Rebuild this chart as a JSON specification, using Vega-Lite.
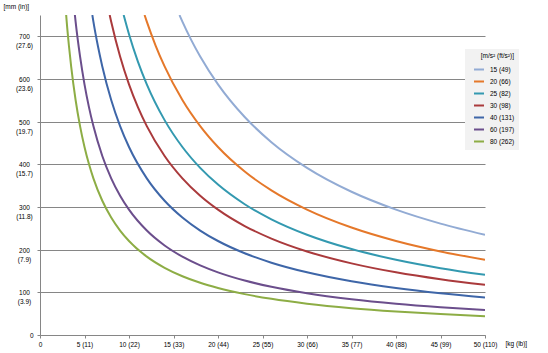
{
  "$schema": "https://vega.github.io/schema/vega-lite/v6.json",
  "autosize": {"type": "none"},
  "padding": {"left": 40, "top": 15, "right": 63, "bottom": 18},
  "width": 445,
  "height": 320,
  "background": "white",
  "config": {
    "view": {"stroke": null},
    "font": "Liberation Sans",
    "axis": {
      "labelFont": "Liberation Sans",
      "titleFont": "Liberation Sans",
      "labelFontSize": 6.5,
      "titleFontSize": 6.5,
      "titleFontWeight": "normal",
      "labelColor": "#000000",
      "titleColor": "#000000",
      "domainColor": "#868686",
      "tickColor": "#868686",
      "gridColor": "#868686",
      "tickSize": 3,
      "domainWidth": 1,
      "gridWidth": 1
    },
    "legend": {
      "labelFont": "Liberation Sans",
      "titleFont": "Liberation Sans"
    }
  },
  "data": {
    "values": [
      {"s": "80 (262)", "x": 2.94, "y": 750}, {"s": "80 (262)", "x": 3, "y": 734.4}, {"s": "80 (262)", "x": 3.25, "y": 677.9}, {"s": "80 (262)", "x": 3.5, "y": 629.5}, {"s": "80 (262)", "x": 4, "y": 550.8}, {"s": "80 (262)", "x": 4.5, "y": 489.6}, {"s": "80 (262)", "x": 5, "y": 440.6}, {"s": "80 (262)", "x": 5.5, "y": 400.6}, {"s": "80 (262)", "x": 6, "y": 367.2}, {"s": "80 (262)", "x": 7, "y": 314.7}, {"s": "80 (262)", "x": 8, "y": 275.4}, {"s": "80 (262)", "x": 9, "y": 244.8}, {"s": "80 (262)", "x": 10, "y": 220.3}, {"s": "80 (262)", "x": 12, "y": 183.6}, {"s": "80 (262)", "x": 14, "y": 157.4}, {"s": "80 (262)", "x": 16, "y": 137.7}, {"s": "80 (262)", "x": 18, "y": 122.4}, {"s": "80 (262)", "x": 20, "y": 110.2}, {"s": "80 (262)", "x": 23, "y": 95.8}, {"s": "80 (262)", "x": 26, "y": 84.7}, {"s": "80 (262)", "x": 30, "y": 73.4}, {"s": "80 (262)", "x": 35, "y": 62.9}, {"s": "80 (262)", "x": 40, "y": 55.1}, {"s": "80 (262)", "x": 45, "y": 49.0}, {"s": "80 (262)", "x": 50, "y": 44.1},
      {"s": "60 (197)", "x": 3.92, "y": 750}, {"s": "60 (197)", "x": 4, "y": 734.4}, {"s": "60 (197)", "x": 4.5, "y": 652.8}, {"s": "60 (197)", "x": 5, "y": 587.5}, {"s": "60 (197)", "x": 5.5, "y": 534.1}, {"s": "60 (197)", "x": 6, "y": 489.6}, {"s": "60 (197)", "x": 7, "y": 419.6}, {"s": "60 (197)", "x": 8, "y": 367.2}, {"s": "60 (197)", "x": 9, "y": 326.4}, {"s": "60 (197)", "x": 10, "y": 293.8}, {"s": "60 (197)", "x": 12, "y": 244.8}, {"s": "60 (197)", "x": 14, "y": 209.8}, {"s": "60 (197)", "x": 16, "y": 183.6}, {"s": "60 (197)", "x": 18, "y": 163.2}, {"s": "60 (197)", "x": 20, "y": 146.9}, {"s": "60 (197)", "x": 23, "y": 127.7}, {"s": "60 (197)", "x": 26, "y": 113.0}, {"s": "60 (197)", "x": 30, "y": 97.9}, {"s": "60 (197)", "x": 35, "y": 83.9}, {"s": "60 (197)", "x": 40, "y": 73.4}, {"s": "60 (197)", "x": 45, "y": 65.3}, {"s": "60 (197)", "x": 50, "y": 58.8},
      {"s": "40 (131)", "x": 5.88, "y": 750}, {"s": "40 (131)", "x": 6, "y": 734.4}, {"s": "40 (131)", "x": 6.5, "y": 677.9}, {"s": "40 (131)", "x": 7, "y": 629.5}, {"s": "40 (131)", "x": 8, "y": 550.8}, {"s": "40 (131)", "x": 9, "y": 489.6}, {"s": "40 (131)", "x": 10, "y": 440.6}, {"s": "40 (131)", "x": 12, "y": 367.2}, {"s": "40 (131)", "x": 14, "y": 314.7}, {"s": "40 (131)", "x": 16, "y": 275.4}, {"s": "40 (131)", "x": 18, "y": 244.8}, {"s": "40 (131)", "x": 20, "y": 220.3}, {"s": "40 (131)", "x": 23, "y": 191.6}, {"s": "40 (131)", "x": 26, "y": 169.5}, {"s": "40 (131)", "x": 30, "y": 146.9}, {"s": "40 (131)", "x": 35, "y": 125.9}, {"s": "40 (131)", "x": 40, "y": 110.2}, {"s": "40 (131)", "x": 45, "y": 97.9}, {"s": "40 (131)", "x": 50, "y": 88.1},
      {"s": "30 (98)", "x": 7.83, "y": 750}, {"s": "30 (98)", "x": 8, "y": 734.4}, {"s": "30 (98)", "x": 9, "y": 652.8}, {"s": "30 (98)", "x": 10, "y": 587.5}, {"s": "30 (98)", "x": 11, "y": 534.1}, {"s": "30 (98)", "x": 12, "y": 489.6}, {"s": "30 (98)", "x": 14, "y": 419.6}, {"s": "30 (98)", "x": 16, "y": 367.2}, {"s": "30 (98)", "x": 18, "y": 326.4}, {"s": "30 (98)", "x": 20, "y": 293.8}, {"s": "30 (98)", "x": 23, "y": 255.4}, {"s": "30 (98)", "x": 26, "y": 226.0}, {"s": "30 (98)", "x": 30, "y": 195.8}, {"s": "30 (98)", "x": 35, "y": 167.9}, {"s": "30 (98)", "x": 40, "y": 146.9}, {"s": "30 (98)", "x": 45, "y": 130.6}, {"s": "30 (98)", "x": 50, "y": 117.5},
      {"s": "25 (82)", "x": 9.4, "y": 750}, {"s": "25 (82)", "x": 10, "y": 705}, {"s": "25 (82)", "x": 11, "y": 640.9}, {"s": "25 (82)", "x": 12, "y": 587.5}, {"s": "25 (82)", "x": 14, "y": 503.6}, {"s": "25 (82)", "x": 16, "y": 440.6}, {"s": "25 (82)", "x": 18, "y": 391.7}, {"s": "25 (82)", "x": 20, "y": 352.5}, {"s": "25 (82)", "x": 23, "y": 306.5}, {"s": "25 (82)", "x": 26, "y": 271.2}, {"s": "25 (82)", "x": 30, "y": 235}, {"s": "25 (82)", "x": 35, "y": 201.4}, {"s": "25 (82)", "x": 40, "y": 176.3}, {"s": "25 (82)", "x": 45, "y": 156.7}, {"s": "25 (82)", "x": 50, "y": 141},
      {"s": "20 (66)", "x": 11.75, "y": 750}, {"s": "20 (66)", "x": 12, "y": 734.4}, {"s": "20 (66)", "x": 13, "y": 677.9}, {"s": "20 (66)", "x": 14, "y": 629.5}, {"s": "20 (66)", "x": 16, "y": 550.8}, {"s": "20 (66)", "x": 18, "y": 489.6}, {"s": "20 (66)", "x": 20, "y": 440.6}, {"s": "20 (66)", "x": 23, "y": 383.2}, {"s": "20 (66)", "x": 26, "y": 338.9}, {"s": "20 (66)", "x": 30, "y": 293.8}, {"s": "20 (66)", "x": 35, "y": 251.8}, {"s": "20 (66)", "x": 40, "y": 220.3}, {"s": "20 (66)", "x": 45, "y": 195.8}, {"s": "20 (66)", "x": 50, "y": 176.3},
      {"s": "15 (49)", "x": 15.67, "y": 750}, {"s": "15 (49)", "x": 16, "y": 734.4}, {"s": "15 (49)", "x": 17, "y": 691.2}, {"s": "15 (49)", "x": 18, "y": 652.8}, {"s": "15 (49)", "x": 20, "y": 587.5}, {"s": "15 (49)", "x": 23, "y": 510.9}, {"s": "15 (49)", "x": 26, "y": 451.9}, {"s": "15 (49)", "x": 30, "y": 391.7}, {"s": "15 (49)", "x": 35, "y": 335.7}, {"s": "15 (49)", "x": 40, "y": 293.8}, {"s": "15 (49)", "x": 45, "y": 261.1}, {"s": "15 (49)", "x": 50, "y": 235}
    ]
  },
  "mark": {"type": "line", "strokeWidth": 2, "interpolate": "monotone", "clip": true},
  "encoding": {
    "x": {
      "field": "x", "type": "quantitative",
      "scale": {"domain": [0, 50], "nice": false, "zero": true},
      "axis": {
        "values": [0, 5, 10, 15, 20, 25, 30, 35, 40, 45, 50],
        "grid": false,
        "labelPadding": 3,
        "labelExpr": "datum.value == 0 ? '0' : datum.value + ' (' + format(datum.value * 2.20462, 'd') + ')'",
        "title": "[kg (lb)]",
        "titleX": 465,
        "titleY": 8,
        "titleAlign": "left",
        "titleAnchor": "start",
        "titleBaseline": "middle",
        "labelFlush": false
      }
    },
    "y": {
      "field": "y", "type": "quantitative",
      "scale": {"domain": [0, 750], "nice": false},
      "axis": {
        "values": [0, 100, 200, 300, 400, 500, 600, 700],
        "grid": true,
        "labelExpr": "datum.value == 0 ? '0' : [datum.value + '', '(' + format(datum.value / 25.4, '.1f') + ')']",
        "labelAlign": {"condition": {"test": "datum.value == 0", "value": "right"}, "value": "center"},
        "labelPadding": {"condition": {"test": "datum.value == 0", "value": 4}, "value": 13},
        "labelBaseline": "top",
        "labelOffset": -2.5,
        "labelLineHeight": 9,
        "labelFlush": false,
        "labelOverlap": false,
        "title": "[mm (in)]",
        "titleAngle": 0,
        "titleX": -37,
        "titleY": -9,
        "titleAlign": "left",
        "titleAnchor": "start",
        "titleBaseline": "middle"
      }
    },
    "color": {
      "field": "s", "type": "nominal",
      "scale": {
        "domain": ["15 (49)", "20 (66)", "25 (82)", "30 (98)", "40 (131)", "60 (197)", "80 (262)"],
        "range": ["#92abd4", "#e5782a", "#3399b0", "#aa3a3c", "#3e66a8", "#6b4e8c", "#8dad45"]
      },
      "legend": {
        "title": "[m/s² (ft/s²)]",
        "orient": "none",
        "legendX": 425,
        "legendY": 34,
        "fillColor": "#f2f2f2",
        "padding": 4,
        "symbolType": "stroke",
        "symbolSize": 100,
        "symbolStrokeWidth": 2,
        "symbolOffset": 4,
        "labelOffset": 5,
        "labelFontSize": 6.5,
        "titleFontSize": 6.5,
        "titleFontWeight": "normal",
        "titleAnchor": "end",
        "titlePadding": 4,
        "rowPadding": 2,
        "labelColor": "#000000",
        "titleColor": "#000000"
      }
    }
  }
}
